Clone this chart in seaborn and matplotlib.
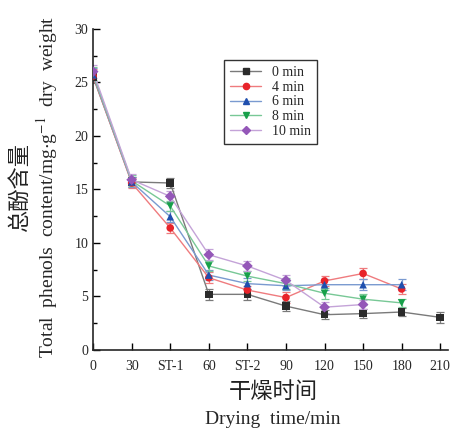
import numpy as np
import pandas as pd
import matplotlib
matplotlib.use('Agg')
import matplotlib.pyplot as plt
from matplotlib.lines import Line2D
from matplotlib.ticker import MultipleLocator
import seaborn as sns

# drying stages on the x axis (equally spaced categories)
stages = ['0', '30', 'ST-1', '60', 'ST-2', '90', '120', '150', '180', '210']

# total phenols content per blanching time, mg/g dry weight
min0 = [25.5, 15.7, 15.6, 5.2, 5.2, 4.1, 3.3, 3.4, 3.55, 3.05]
min4 = [25.6, 15.6, 11.4, 6.75, 5.6, 4.9, 6.45, 7.15, 5.7]
min6 = [25.7, 15.7, 12.45, 7.0, 6.2, 6.0, 6.1, 6.1, 6.1]
min8 = [25.8, 15.8, 13.45, 7.85, 6.9, 6.2, 5.3, 4.75, 4.4]
min10 = [26.0, 15.9, 14.35, 8.9, 7.85, 6.5, 4.0, 4.25]

# error bars (standard deviation)
err0 = [0.6, 0.5, 0.5, 0.5, 0.5, 0.5, 0.4, 0.4, 0.4, 0.5]
err4 = [0.6, 0.5, 0.5, 0.5, 0.4, 0.5, 0.5, 0.5, 0.5]
err6 = [0.6, 0.5, 0.5, 0.5, 0.5, 0.4, 0.5, 0.5, 0.5]
err8 = [0.6, 0.5, 0.5, 0.5, 0.5, 0.5, 0.5, 0.5, 0.4]
err10 = [0.6, 0.5, 0.5, 0.5, 0.5, 0.5, 0.5, 0.4]

labels = ['0 min', '4 min', '6 min', '8 min', '10 min']
series = [min0, min4, min6, min8, min10]
errors = [err0, err4, err6, err8, err10]
markers = ['s', 'o', '^', 'v', 'D']
mark_colors = ['#2b2b2b', '#e8232a', '#1f4fae', '#17a04a', '#9457b8']
line_colors = ['#7a7a7a', '#ef7b7e', '#7a9ad0', '#78c896', '#c4a3d8']

rows = []
for lab, vals, errs in zip(labels, series, errors):
    for i, (v, e) in enumerate(zip(vals, errs)):
        rows.append({'pos': i, 'stage': stages[i], 'value': v, 'err': e, 'group': lab})
df = pd.DataFrame(rows)

sns.set_style('ticks')
plt.rcParams['font.family'] = ['Liberation Serif', 'Noto Sans CJK SC']
plt.rcParams['mathtext.fontset'] = 'stix'

fig = plt.figure(figsize=(4.75, 4.3), dpi=100)
ax = fig.add_axes([0.196, 0.186, 0.747, 0.747])

for lab, ec in zip(labels, line_colors):
    sub = df[df['group'] == lab]
    ax.errorbar(sub['pos'], sub['value'], yerr=sub['err'], fmt='none',
                ecolor=ec, elinewidth=0.9, capsize=3, capthick=0.9, zorder=2)

sns.lineplot(data=df, x='pos', y='value', hue='group', palette=dict(zip(labels, line_colors)),
             sort=False, linewidth=1.0, legend=False, ax=ax, zorder=3)
sns.scatterplot(data=df, x='pos', y='value', hue='group', style='group',
                palette=dict(zip(labels, mark_colors)), markers=dict(zip(labels, markers)),
                s=30, linewidth=0, legend=False, ax=ax, zorder=4)

ax.set_xlim(0, 9.2)
ax.set_ylim(0, 30)
ax.set_xticks(range(len(stages)))
ax.set_xticklabels(stages)
ax.yaxis.set_major_locator(MultipleLocator(5))
ax.yaxis.set_minor_locator(MultipleLocator(2.5))
ax.tick_params(axis='both', which='both', direction='in', labelsize=10, color='black')
ax.tick_params(which='major', length=5, width=1.0)
ax.tick_params(which='minor', length=3, width=1.0)
ax.tick_params(axis='x', pad=7)
for s in ['top', 'right']:
    ax.spines[s].set_visible(False)
for s in ['left', 'bottom']:
    ax.spines[s].set_linewidth(1.2)
ax.set_xlabel('')
ax.set_ylabel('')

handles = [Line2D([0], [0], color=lc, marker=m, markerfacecolor=mc, markeredgecolor=mc,
                  markersize=4.5, linewidth=1.0)
           for lc, m, mc in zip(line_colors, markers, mark_colors)]
leg = ax.legend(handles, labels, loc='upper left', bbox_to_anchor=(0.35, 0.925),
                frameon=True, fancybox=False, fontsize=10, handlelength=2.2,
                labelspacing=0.12, borderpad=0.45, handletextpad=0.8)
leg.get_frame().set_edgecolor('black')
leg.get_frame().set_linewidth(1.0)

fig.text(0.043, 0.565, '总酚含量', rotation=90, ha='center', va='center',
         fontsize=16, fontweight='light', color='#222222')
fig.text(0.1, 0.565, 'Total  phenols  content/mg$\\cdot$g$^{-1}$  dry  weight', rotation=90,
         ha='center', va='center', fontsize=14)
fig.text(0.575, 0.087, '干燥时间', ha='center', va='center',
         fontsize=16, fontweight='light', color='#222222')
fig.text(0.575, 0.025, 'Drying  time/min', ha='center', va='center', fontsize=14)

fig.savefig('out.png', dpi=100)
